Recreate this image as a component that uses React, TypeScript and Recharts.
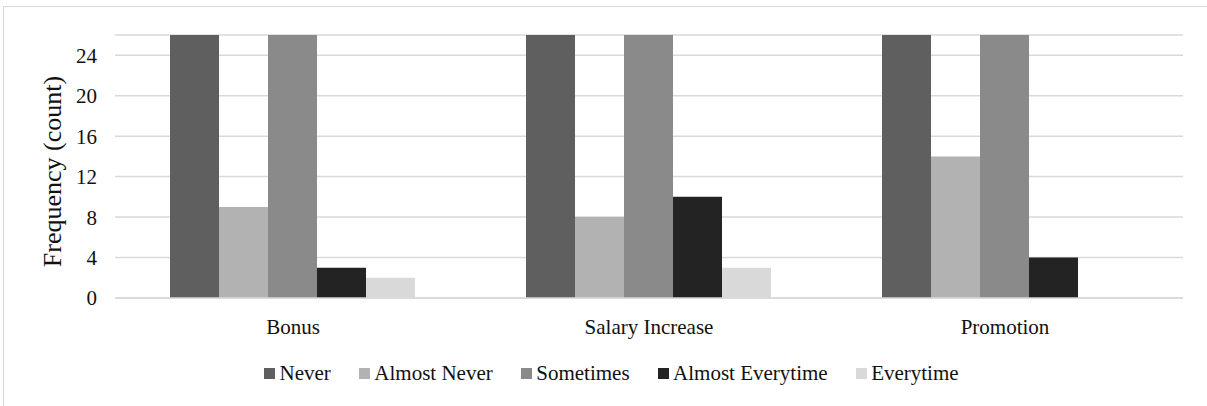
import React from 'react';
import { BarChart, Bar, XAxis, YAxis, CartesianGrid, Legend, Label } from 'recharts';

const categories = ['Bonus', 'Salary Increase', 'Promotion'];
const never = [26, 26, 26];
const almostNever = [9, 8, 14];
const sometimes = [26, 26, 26];
const almostEverytime = [3, 10, 4];
const everytime = [2, 3, 0];
const yTicks = [0, 4, 8, 12, 16, 20, 24];

const series = [
  { key: 'never', name: 'Never', color: '#5f5f5f' },
  { key: 'almostNever', name: 'Almost Never', color: '#b2b2b2' },
  { key: 'sometimes', name: 'Sometimes', color: '#8a8a8a' },
  { key: 'almostEverytime', name: 'Almost Everytime', color: '#232323' },
  { key: 'everytime', name: 'Everytime', color: '#d9d9d9' },
];

const data = categories.map((name, i) => ({
  name,
  never: never[i],
  almostNever: almostNever[i],
  sometimes: sometimes[i],
  almostEverytime: almostEverytime[i],
  everytime: everytime[i],
}));

const FONT = 'Liberation Serif, DejaVu Serif, serif';
const TEXT = '#111111';

function LegendRow() {
  return (
    <div style={{ display: 'flex', alignItems: 'center', height: 24, fontFamily: FONT, fontSize: 21, color: TEXT, whiteSpace: 'nowrap' }}>
      {series.map((s) => (
        <div key={s.key} style={{ display: 'flex', alignItems: 'center', marginRight: 28 }}>
          <span style={{ width: 11, height: 11, background: s.color, marginRight: 4.5, display: 'inline-block' }} />
          <span style={{ lineHeight: '24px' }}>{s.name}</span>
        </div>
      ))}
    </div>
  );
}

function YTitle(props: any) {
  const vb = props.viewBox || { x: 0, y: 0, width: 0, height: 0 };
  const x = vb.x + 61;
  const y = vb.y + vb.height / 2 + 5;
  return (
    <text x={x} y={y} transform={`rotate(-90, ${x}, ${y})`} textAnchor="middle" style={{ fontFamily: FONT, fontSize: 26 }} fill={TEXT}>
      Frequency (count)
    </text>
  );
}

export default function App() {
  return (
    <div style={{ position: 'absolute', left: 0, top: 0, width: 1207, height: 406, background: '#fff', overflow: 'hidden', fontFamily: FONT }}>
      <div style={{ position: 'absolute', left: 3, top: 6, width: 1300, height: 500, border: '1px solid #d6d6d6' }} />
      <div style={{ position: 'absolute', left: 0, top: 0 }}>
        <BarChart
          width={1207}
          height={406}
          data={data}
          margin={{ top: 35, right: 24, bottom: 68, left: 0 }}
          barCategoryGap="15.45%"
          barGap={0}
          style={{ fontFamily: FONT }}
        >
          <CartesianGrid vertical={false} stroke="#d9d9d9" strokeWidth={1.5} />
          <XAxis
            dataKey="name"
            height={40}
            tickLine={false}
            axisLine={{ stroke: '#d9d9d9', strokeWidth: 1.5 }}
            tickMargin={15}
            tick={{ fontFamily: FONT, fontSize: 21, fill: TEXT, style: { fontFamily: FONT } }}
          />
          <YAxis
            width={115}
            domain={[0, 26]}
            ticks={yTicks}
            allowDataOverflow
            axisLine={false}
            tickLine={false}
            tickSize={0}
            tickMargin={18}
            tick={{ fontFamily: FONT, fontSize: 21, fill: TEXT, style: { fontFamily: FONT } }}
          >
            <Label content={<YTitle />} />
          </YAxis>
          <Legend
            layout="horizontal"
            verticalAlign="middle"
            content={<LegendRow />}
            wrapperStyle={{ left: 264, top: 361, width: 900 }}
          />
          {series.map((s) => (
            <Bar key={s.key} dataKey={s.key} name={s.name} fill={s.color} isAnimationActive={false} />
          ))}
        </BarChart>
      </div>
    </div>
  );
}
